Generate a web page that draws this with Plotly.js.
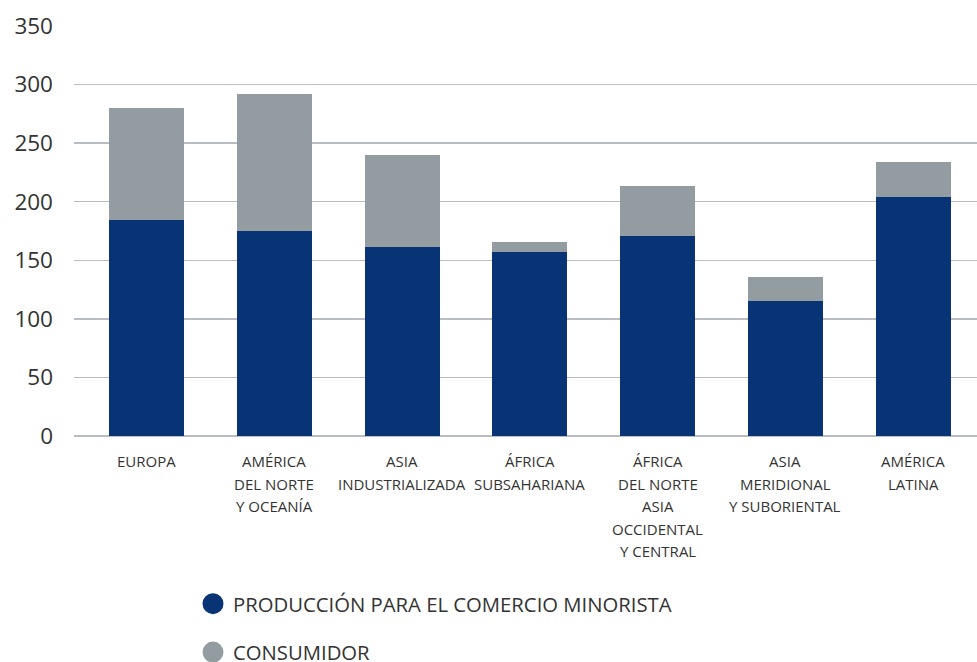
<!DOCTYPE html>
<html>
<head>
<meta charset="utf-8">
<script src="https://cdn.plot.ly/plotly-3.0.1.min.js"></script>
<style>
  html, body { margin: 0; padding: 0; background: #ffffff; }
  #chart { width: 977px; height: 662px; }
</style>
</head>
<body>
<div id="chart"></div>
<script>
// ---- Data ----
var categories = [
  "EUROPA",
  "AMÉRICA<br>DEL NORTE<br>Y OCEANÍA",
  "ASIA<br>INDUSTRIALIZADA",
  "ÁFRICA<br>SUBSAHARIANA",
  "ÁFRICA<br>DEL NORTE<br>ASIA<br>OCCIDENTAL<br>Y CENTRAL",
  "ASIA<br>MERIDIONAL<br>Y SUBORIENTAL",
  "AMÉRICA<br>LATINA"
];
var seriesNames = ["PRODUCCIÓN PARA EL COMERCIO MINORISTA", "CONSUMIDOR"];
var produccion = [184, 175, 161, 157, 171, 115, 204];
var consumidor = [96, 117, 79, 9, 42, 21, 30];
var yTicks = [0, 50, 100, 150, 200, 250, 300, 350];

var BLUE = "#083476";
var GRAY = "#939ca1";
var FONT = "Open Sans, DejaVu Sans, sans-serif";

var xIdx = categories.map(function (c, i) { return i; });

var traces = [
  { type: "bar", x: xIdx, y: produccion, name: seriesNames[0], marker: { color: BLUE }, showlegend: false, hoverinfo: "y" },
  { type: "bar", x: xIdx, y: consumidor, name: seriesNames[1], marker: { color: GRAY }, showlegend: false, hoverinfo: "y" },
  // legend-only circle markers
  { type: "scatter", mode: "markers", x: [null], y: [null], name: seriesNames[0], legendgroup: "a",
    marker: { symbol: "circle", size: 16, color: BLUE, line: { color: BLUE, width: 5 } } },
  { type: "scatter", mode: "markers", x: [null], y: [null], name: seriesNames[1], legendgroup: "b",
    marker: { symbol: "circle", size: 16, color: GRAY, line: { color: GRAY, width: 5 } } }
];

// category labels as annotations, one per line, for wider line spacing
var annotations = [];
categories.forEach(function (c, i) {
  c.split("<br>").forEach(function (line, j) {
    annotations.push({
      x: i, xref: "x", y: 0, yref: "paper",
      text: line, showarrow: false,
      xanchor: "center", yanchor: "middle",
      yshift: -(25 + j * 22.6),
      font: { family: FONT, size: 15, color: "#333333" }
    });
  });
});

var layout = {
  width: 977, height: 662,
  margin: { l: 74, r: 0, t: 26, b: 226, autoexpand: false },
  paper_bgcolor: "#ffffff", plot_bgcolor: "#ffffff",
  barmode: "stack",
  bargap: 0.413,
  font: { family: FONT, color: "#333333" },
  xaxis: {
    type: "linear",
    range: [-0.567, 6.5],
    showticklabels: false, showgrid: false, zeroline: false, ticks: "",
    fixedrange: true
  },
  yaxis: {
    range: [0, 350],
    tickvals: yTicks,
    ticktext: yTicks.map(String),
    showgrid: true, gridcolor: "#b7bdc2", gridwidth: 1.5,
    zeroline: true, zerolinecolor: "#b7bdc2", zerolinewidth: 1.5,
    showline: false, ticks: "",
    ticklabelstandoff: 20,
    tickfont: { family: FONT, size: 22.5, color: "#333333" },
    fixedrange: true
  },
  showlegend: true,
  legend: {
    orientation: "v",
    xref: "container", yref: "container",
    x: 193 / 977, xanchor: "left",
    y: 1 - 584 / 662, yanchor: "top",
    traceorder: "grouped",
    tracegroupgap: 19,
    font: { family: FONT, size: 20.3, color: "#333333" },
    bgcolor: "rgba(0,0,0,0)"
  },
  annotations: annotations
};

Plotly.newPlot("chart", traces, layout, { displayModeBar: false, staticPlot: true });
</script>
</body>
</html>
